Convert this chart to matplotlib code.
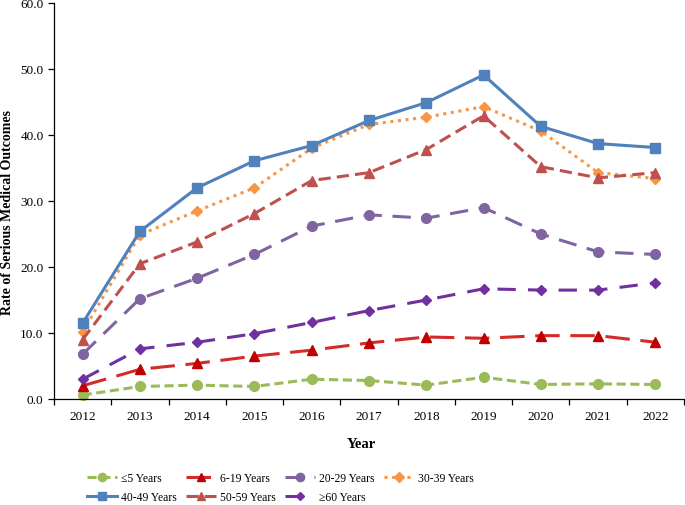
import matplotlib
matplotlib.use("Agg")
import matplotlib.pyplot as plt
from matplotlib.ticker import FixedLocator, FormatStrFormatter

plt.rcParams['font.family'] = ['Liberation Serif', 'DejaVu Serif']

years = [2012, 2013, 2014, 2015, 2016, 2017, 2018, 2019, 2020, 2021, 2022]
age_le5 = [0.6, 1.9, 2.1, 1.9, 3.0, 2.8, 2.1, 3.3, 2.2, 2.3, 2.2]
age_6_19 = [2.0, 4.5, 5.4, 6.5, 7.4, 8.5, 9.4, 9.2, 9.6, 9.6, 8.6]
age_20_29 = [6.8, 15.2, 18.3, 21.9, 26.2, 27.9, 27.4, 29.0, 25.0, 22.3, 21.9]
age_30_39 = [10.2, 24.9, 28.5, 32.0, 38.0, 41.6, 42.7, 44.3, 40.6, 34.3, 33.4]
age_40_49 = [11.5, 25.4, 32.0, 36.1, 38.4, 42.2, 44.9, 49.1, 41.3, 38.7, 38.1]
age_50_59 = [9.0, 20.5, 23.8, 28.1, 33.1, 34.3, 37.8, 42.9, 35.2, 33.5, 34.3]
age_ge60 = [3.0, 7.6, 8.6, 9.9, 11.6, 13.4, 15.0, 16.7, 16.5, 16.5, 17.6]

labels = ['≤5 Years', '6-19 Years', '20-29 Years', '30-39 Years',
          '40-49 Years', '50-59 Years', '≥60 Years']

fig = plt.figure(figsize=(6.85, 5.06), dpi=100)
ax = fig.add_axes([54/685, 1-400/506, 630/685, 396/506])

styles = [
    dict(data=age_le5, color='#9BBB59', mfc='#9BBB59', marker='o', ms=7, ls=(0, (3, 1.5)), lw=2.2),
    dict(data=age_6_19, color='#D42A2A', mfc='#C00000', marker='^', ms=7, ls=(0, (8, 3.5)), lw=2.2),
    dict(data=age_20_29, color='#8064A2', mfc='#8064A2', marker='o', ms=7, ls=(0, (6, 3.5)), lw=2.2),
    dict(data=age_30_39, color='#F79646', mfc='#F79646', marker='D', ms=5.5, ls=(0, (1, 1.5)), lw=2.2),
    dict(data=age_40_49, color='#4F81BD', mfc='#4F81BD', marker='s', ms=7, ls='-', lw=2.2),
    dict(data=age_50_59, color='#C0504D', mfc='#C0504D', marker='^', ms=7, ls=(0, (4, 2)), lw=2.2),
    dict(data=age_ge60, color='#7030A0', mfc='#7030A0', marker='D', ms=5, ls=(0, (6, 4)), lw=2.2),
]

for lab, st in zip(labels, styles):
    ax.plot(years, st['data'], color=st['color'], marker=st['marker'], ms=st['ms'],
            mfc=st['mfc'], mec=st['mfc'], ls=st['ls'], lw=st['lw'], label=lab,
            clip_on=False)

ax.set_xlim(2011.5, 2022.5)
ax.set_ylim(0, 60)
ax.set_yticks([0, 10, 20, 30, 40, 50, 60])
ax.yaxis.set_major_formatter(FormatStrFormatter('%.1f'))
ax.set_xticks(years)
ax.set_xticklabels([str(y) for y in years])
ax.xaxis.set_minor_locator(FixedLocator([y - 0.5 for y in years] + [2022.5]))
ax.tick_params(axis='x', which='major', length=0, labelsize=9.5, pad=8)
ax.tick_params(axis='x', which='minor', length=4, direction='out', width=0.9)
ax.tick_params(axis='y', which='major', length=4, direction='out', width=0.9, labelsize=9.5)

for s in ['top', 'right']:
    ax.spines[s].set_visible(False)
for s in ['left', 'bottom']:
    ax.spines[s].set_linewidth(0.9)

ax.set_ylabel('Rate of Serious Medical Outcomes', fontsize=10, fontweight='bold')
ax.yaxis.set_label_coords((14 - 54) / 630, (400 - 213) / 396)
ax.set_xlabel('Year', fontsize=10.5, fontweight='bold')
ax.xaxis.set_label_coords((361 - 54) / 630, -(438 - 400) / 396)

handles, labs = ax.get_legend_handles_labels()
order = [0, 4, 1, 5, 2, 6, 3]
fig.legend([handles[i] for i in order], [labs[i] for i in order],
           loc='upper left', bbox_to_anchor=(87/685, 1 - 473/506), ncol=4,
           frameon=False, fontsize=8.4, handlelength=2.6, columnspacing=0.75,
           handletextpad=0.35, labelspacing=0.6, borderpad=0, borderaxespad=0,
           markerscale=0.85)

fig.savefig('out.png', dpi=100)
